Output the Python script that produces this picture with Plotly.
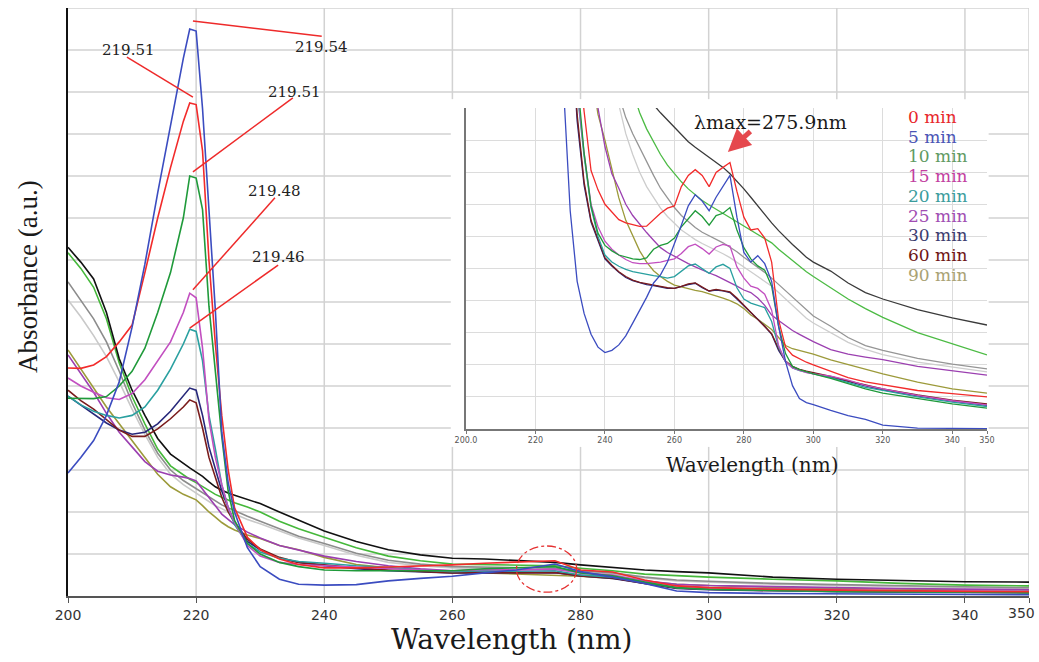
import plotly.graph_objects as go

# ---------------- data: main spectra ----------------
wl_main = [200, 202, 204, 206, 208, 210, 212, 214, 216, 218, 219, 220, 221, 222, 223, 224, 225, 226, 228, 230,
           233, 236, 240, 245, 250, 255, 260, 265, 270, 276, 280, 285, 290, 295, 300, 310, 320, 330, 340, 350]

main_0min = [5.43, 5.42, 5.5, 5.7, 6.05, 6.45, 7.7, 9.0, 10.2, 11.3, 11.74, 11.7, 10.6, 8.0, 6.0, 4.3, 3.0, 2.1, 1.4, 1.1,
             0.88, 0.75, 0.67, 0.67, 0.69, 0.71, 0.74, 0.78, 0.81, 0.84, 0.62, 0.57, 0.38, 0.24, 0.2, 0.16, 0.14, 0.12, 0.11, 0.1]
main_5min = [2.93, 3.3, 3.7, 4.3, 5.1, 6.4, 7.9, 9.6, 11.2, 12.8, 13.5, 13.45, 11.6, 9.2, 6.8, 3.9, 2.7, 2.0, 1.15, 0.7,
             0.4, 0.28, 0.26, 0.27, 0.36, 0.42, 0.47, 0.55, 0.62, 0.76, 0.58, 0.45, 0.3, 0.12, 0.08, 0.06, 0.05, 0.04, 0.04, 0.03]
main_10min = [4.71, 4.7, 4.7, 4.75, 5.0, 5.35, 5.9, 6.75, 7.7, 9.0, 10.0, 9.95, 9.2, 6.9, 5.4, 3.8, 2.5, 1.8, 1.25, 1.0,
              0.8, 0.7, 0.62, 0.6, 0.6, 0.6, 0.6, 0.65, 0.68, 0.7, 0.55, 0.48, 0.33, 0.2, 0.16, 0.13, 0.11, 0.1, 0.09, 0.08]
main_15min = [5.19, 5.0, 4.85, 4.72, 4.68, 4.82, 5.15, 5.6, 6.05, 6.75, 7.21, 7.1, 5.9, 4.2, 3.3, 2.65, 2.1, 1.75, 1.2, 0.95,
              0.8, 0.75, 0.72, 0.68, 0.64, 0.62, 0.6, 0.63, 0.62, 0.64, 0.55, 0.5, 0.36, 0.24, 0.2, 0.17, 0.15, 0.13, 0.12, 0.11]
main_20min = [4.76, 4.55, 4.4, 4.3, 4.24, 4.3, 4.5, 4.9, 5.4, 6.0, 6.35, 6.3, 5.6, 4.3, 3.5, 2.65, 2.1, 1.7, 1.25, 1.05,
              0.9, 0.82, 0.78, 0.72, 0.68, 0.62, 0.58, 0.6, 0.59, 0.6, 0.5, 0.45, 0.32, 0.2, 0.16, 0.13, 0.11, 0.1, 0.09, 0.08]
main_25min = [5.74, 5.3, 4.85, 4.35, 3.9, 3.55, 3.2, 2.97, 2.88, 2.83, 2.8, 2.74, 2.55, 2.35, 2.15, 1.95, 1.82, 1.7, 1.52, 1.38,
              1.2, 1.1, 0.95, 0.82, 0.72, 0.65, 0.6, 0.58, 0.56, 0.55, 0.5, 0.45, 0.36, 0.28, 0.25, 0.22, 0.2, 0.18, 0.16, 0.15]
main_30min = [4.76, 4.55, 4.35, 4.12, 3.95, 3.85, 3.9, 4.1, 4.4, 4.75, 4.95, 4.9, 4.3, 3.55, 3.0, 2.5, 2.1, 1.75, 1.3, 1.1,
              0.9, 0.8, 0.72, 0.65, 0.6, 0.57, 0.55, 0.55, 0.55, 0.56, 0.48, 0.42, 0.3, 0.18, 0.15, 0.12, 0.1, 0.09, 0.08, 0.08]
main_60min = [4.9, 4.65, 4.45, 4.2, 3.95, 3.8, 3.8, 3.98, 4.22, 4.5, 4.67, 4.6, 4.0, 3.3, 2.8, 2.35, 2.0, 1.75, 1.35, 1.12,
              0.92, 0.8, 0.74, 0.67, 0.62, 0.58, 0.55, 0.56, 0.55, 0.56, 0.48, 0.43, 0.3, 0.19, 0.16, 0.13, 0.11, 0.1, 0.09, 0.08]
main_90min = [5.86, 5.4, 4.95, 4.5, 4.1, 3.71, 3.3, 2.9, 2.6, 2.42, 2.35, 2.29, 2.15, 2.0, 1.88, 1.75, 1.65, 1.57, 1.45, 1.37,
              1.2, 1.1, 0.92, 0.75, 0.67, 0.62, 0.58, 0.55, 0.52, 0.5, 0.47, 0.42, 0.35, 0.28, 0.25, 0.2, 0.18, 0.16, 0.15, 0.14]
main_black = [8.3, 7.95, 7.55, 6.75, 5.65, 4.9, 4.3, 3.75, 3.38, 3.15, 3.05, 2.95, 2.85, 2.72, 2.6, 2.52, 2.45, 2.4, 2.3, 2.2,
              2.0, 1.8, 1.55, 1.3, 1.1, 0.98, 0.9, 0.88, 0.85, 0.8, 0.74, 0.68, 0.62, 0.58, 0.55, 0.45, 0.4, 0.37, 0.34, 0.33]
main_green = [8.17, 7.8, 7.35, 6.6, 5.55, 4.75, 4.1, 3.5, 3.1, 2.88, 2.78, 2.7, 2.6, 2.5, 2.42, 2.35, 2.28, 2.22, 2.12, 2.0,
              1.78, 1.6, 1.4, 1.15, 0.95, 0.84, 0.76, 0.75, 0.74, 0.72, 0.66, 0.6, 0.52, 0.48, 0.45, 0.4, 0.36, 0.3, 0.26, 0.24]
main_gray = [7.48, 7.05, 6.6, 6.05, 5.35, 4.6, 3.95, 3.4, 3.0, 2.75, 2.65, 2.57, 2.45, 2.35, 2.25, 2.17, 2.1, 2.03, 1.9, 1.78,
             1.6, 1.42, 1.25, 1.02, 0.85, 0.76, 0.7, 0.69, 0.68, 0.66, 0.6, 0.55, 0.45, 0.38, 0.35, 0.3, 0.27, 0.24, 0.22, 0.2]
main_lightgray = [7.05, 6.65, 6.2, 5.7, 5.1, 4.45, 3.85, 3.3, 2.9, 2.65, 2.55, 2.45, 2.35, 2.25, 2.15, 2.08, 2.0, 1.95, 1.82, 1.72,
                  1.55, 1.38, 1.2, 0.97, 0.8, 0.72, 0.67, 0.66, 0.65, 0.63, 0.58, 0.52, 0.43, 0.36, 0.33, 0.28, 0.25, 0.22, 0.2, 0.18]

# ---------------- data: inset (zoomed) spectra ----------------
wl_inset = [228, 230, 232, 234, 236, 238, 240, 242, 244, 246, 248, 250, 252, 254, 256, 258, 260, 262, 264, 266, 268,
            270, 272, 274, 276, 278, 280, 282, 284, 286, 288, 290, 292, 294, 296, 298, 300, 305, 310, 315, 320, 330, 340, 350]

ins_0min = [22, 16, 12, 9.9, 8.05, 7.45, 7.0, 6.75, 6.52, 6.42, 6.36, 6.31, 6.32, 6.52, 6.72, 6.88, 6.95, 7.55, 7.9, 8.08, 7.9,
            7.55, 7.99, 8.15, 8.3, 7.4, 6.6, 6.2, 6.24, 5.95, 5.2, 3.4, 2.55, 2.3, 2.18, 2.08, 2.0, 1.8, 1.6, 1.47, 1.38, 1.2, 1.1, 1.0]
ins_5min = [10.8, 6.8, 4.6, 3.6, 2.95, 2.55, 2.38, 2.45, 2.62, 2.9, 3.3, 3.7, 4.1, 4.55, 4.8, 5.2, 5.75, 6.35, 6.95, 7.3, 7.1,
            6.8, 7.22, 7.58, 7.9, 6.6, 5.5, 5.2, 5.4, 5.15, 4.6, 3.2, 2.1, 1.35, 0.95, 0.82, 0.76, 0.58, 0.42, 0.3, 0.12, 0.03, 0.02, 0.01]
ins_10min = [20, 14, 11, 8.6, 6.95, 6.1, 5.72, 5.55, 5.42, 5.35, 5.3, 5.28, 5.33, 5.6, 5.72, 5.78, 5.95, 6.3, 6.55, 6.8, 6.62,
             6.35, 6.65, 6.72, 6.9, 6.2, 5.65, 5.3, 5.08, 4.95, 4.45, 3.2, 2.35, 1.95, 1.85, 1.78, 1.72, 1.58, 1.42, 1.25, 1.12, 0.95, 0.78, 0.65]
ins_15min = [20, 14, 10.6, 8.6, 7.0, 6.3, 5.85, 5.6, 5.42, 5.28, 5.18, 5.15, 5.15, 5.17, 5.2, 5.25, 5.3, 5.47, 5.68, 5.76, 5.62,
             5.45, 5.67, 5.75, 5.7, 5.05, 4.7, 4.45, 4.38, 4.2, 3.7, 2.6, 2.1, 1.9, 1.82, 1.76, 1.72, 1.65, 1.52, 1.36, 1.25, 1.05, 0.88, 0.75]
ins_20min = [20, 14, 10.5, 8.5, 6.9, 6.0, 5.42, 5.2, 5.07, 4.97, 4.9, 4.86, 4.8, 4.78, 4.75, 4.7, 4.75, 4.92, 5.08, 5.14, 5.0,
             4.85, 5.05, 5.13, 5.0, 4.4, 4.05, 3.92, 3.85, 3.78, 3.35, 2.55, 2.1, 1.9, 1.82, 1.76, 1.72, 1.6, 1.45, 1.3, 1.2, 1.0, 0.84, 0.7]
ins_25min = [19, 16.8, 14.8, 13.0, 11.4, 10.0, 8.8, 7.95, 7.5, 7.0, 6.65, 6.38, 6.12, 5.88, 5.65, 5.5, 5.38, 5.28, 5.15, 5.05, 4.95,
             4.86, 4.78, 4.68, 4.56, 4.45, 4.33, 4.25, 4.08, 3.85, 3.55, 3.38, 3.22, 3.07, 2.95, 2.83, 2.72, 2.47, 2.33, 2.24, 2.16, 1.95, 1.82, 1.68]
ins_30min = [20, 13, 9.6, 7.6, 6.45, 5.85, 5.3, 5.08, 4.88, 4.72, 4.62, 4.56, 4.5, 4.47, 4.43, 4.38, 4.38, 4.45, 4.5, 4.54, 4.4,
             4.3, 4.33, 4.3, 4.25, 4.05, 3.85, 3.65, 3.42, 3.2, 2.95, 2.45, 2.1, 1.92, 1.84, 1.78, 1.74, 1.62, 1.48, 1.34, 1.22, 1.03, 0.87, 0.74]
ins_60min = [20, 13.2, 9.8, 7.7, 6.5, 5.9, 5.34, 5.1, 4.9, 4.75, 4.64, 4.57, 4.52, 4.48, 4.44, 4.4, 4.38, 4.44, 4.52, 4.55, 4.42,
             4.3, 4.35, 4.32, 4.27, 4.08, 3.86, 3.66, 3.44, 3.22, 2.97, 2.5, 2.12, 1.95, 1.86, 1.8, 1.76, 1.64, 1.5, 1.37, 1.25, 1.06, 0.9, 0.78]
ins_90min = [18.8, 16.6, 14.6, 12.8, 11.2, 9.8, 9.0, 8.1, 7.2, 6.5, 6.0, 5.55, 5.2, 4.93, 4.75, 4.6, 4.48, 4.42, 4.38, 4.32, 4.28,
             4.22, 4.16, 4.08, 4.0, 3.9, 3.75, 3.55, 3.42, 3.25, 3.1, 2.85, 2.6, 2.5, 2.44, 2.38, 2.33, 2.15, 2.0, 1.85, 1.72, 1.46, 1.25, 1.12]
ins_black = [24, 22, 20, 18, 16.5, 15.3, 14.3, 13.4, 12.6, 11.9, 11.3, 10.8, 10.4, 10.1, 9.85, 9.62, 9.4, 9.15, 8.95, 8.78, 8.62,
             8.48, 8.32, 8.15, 7.95, 7.72, 7.48, 7.22, 6.95, 6.68, 6.42, 6.18, 5.95, 5.75, 5.55, 5.35, 5.2, 4.92, 4.55, 4.25, 4.05, 3.72, 3.46, 3.24]
ins_green = [23.5, 21.4, 19.5, 17.8, 16.3, 15.0, 13.9, 12.9, 12.0, 11.2, 10.5, 9.85, 9.35, 8.95, 8.55, 8.22, 7.95, 7.7, 7.48, 7.3, 7.12,
             6.98, 6.85, 6.72, 6.6, 6.45, 6.33, 6.2, 6.08, 5.95, 5.8, 5.6, 5.42, 5.25, 5.05, 4.9, 4.75, 4.4, 4.05, 3.75, 3.48, 3.0, 2.65, 2.31]
ins_gray = [23, 21, 19, 17, 15.2, 13.7, 12.4, 11.3, 10.4, 9.7, 9.2, 8.75, 8.3, 7.9, 7.5, 7.2, 6.9, 6.65, 6.45, 6.28, 6.13,
            6.02, 5.92, 5.8, 5.66, 5.52, 5.35, 5.2, 5.05, 4.88, 4.7, 4.5, 4.3, 4.1, 3.9, 3.7, 3.52, 3.2, 2.85, 2.6, 2.45, 2.2, 2.02, 1.87]
ins_lightgray = [22.6, 20.3, 18.2, 16.3, 14.6, 13.2, 12.0, 11.0, 10.1, 9.2, 8.55, 8.0, 7.55, 7.2, 6.88, 6.62, 6.4, 6.2, 6.05, 5.9, 5.78,
                 5.68, 5.58, 5.46, 5.34, 5.2, 5.05, 4.9, 4.75, 4.6, 4.45, 4.25, 4.05, 3.85, 3.65, 3.45, 3.3, 3.0, 2.7, 2.48, 2.32, 2.08, 1.92, 1.78]

# ---------------- labels ----------------
legend_labels = ["0 min", "5 min", "10 min", "15 min", "20 min", "25 min", "30 min", "60 min", "90 min"]
legend_colors = ["#e8262a", "#4a55b5", "#5f9a62", "#c23e9f", "#3a9c9c", "#a04db2", "#3b3b6e", "#6e1414", "#a9a274"]
peak_labels = ["219.51", "219.54", "219.51", "219.48", "219.46"]
main_tick_vals = [200, 220, 240, 260, 280, 300, 320, 340, 350]
inset_tick_vals = [200, 220, 240, 260, 280, 300, 320, 340, 350]
inset_tick_text = ["200.0", "220", "240", "260", "280", "300", "320", "340", "350"]
lambda_max_label = "λmax=275.9nm"

# ---------------- styling ----------------
C = {
    "lightgray": "#c9c9c9", "gray": "#8c8c8c", "green": "#45b83a", "black": "#111111",
    "90": "#9c9a3a", "25": "#9b3fb0", "30": "#27287a", "60": "#7a1c1c", "20": "#2aa0a0",
    "15": "#c24fc0", "10": "#1f9a3a", "0": "#f22b2b", "5": "#3b4cc0",
}

main_traces = [
    (main_lightgray, C["lightgray"]), (main_gray, C["gray"]), (main_green, C["green"]), (main_black, C["black"]),
    (main_90min, C["90"]), (main_25min, C["25"]), (main_30min, C["30"]), (main_60min, C["60"]),
    (main_20min, C["20"]), (main_15min, C["15"]), (main_10min, C["10"]), (main_0min, C["0"]), (main_5min, C["5"]),
]
inset_traces = [
    (ins_lightgray, "#cdcdcd"), (ins_gray, "#959595"), (ins_green, "#4cbb44"), (ins_black, "#3a3a3a"),
    (ins_90min, C["90"]), (ins_25min, C["25"]), (ins_30min, C["30"]), (ins_60min, C["60"]),
    (ins_20min, C["20"]), (ins_15min, C["15"]), (ins_10min, C["10"]), (ins_0min, C["0"]), (ins_5min, C["5"]),
]

fig = go.Figure()
for ys, col in main_traces:
    fig.add_trace(go.Scatter(x=wl_main, y=ys, mode="lines", line=dict(color=col, width=1.6),
                             xaxis="x", yaxis="y", hoverinfo="skip"))
for ys, col in inset_traces:
    fig.add_trace(go.Scatter(x=wl_inset, y=ys, mode="lines", line=dict(color=col, width=1.3),
                             xaxis="x2", yaxis="y2", hoverinfo="skip"))

# geometry (pixels) -> paper helpers
W, H = 1039, 662
L, R, T, B = 68, 10, 8, 66
PW, PH = W - L - R, H - T - B


def px(x):
    return (x - L) / PW


def py(y):
    return (H - B - y) / PH


# main gridlines as shapes, interrupted by the white inset box
box_x = (259.75, 343.7)
box_y = (3.55, 11.83)
shapes = []
grid_style = dict(color="#d2d2d2", width=1.5)
for v in range(1, 15):
    segs = [(200, box_x[0]), (box_x[1], 350)] if box_y[0] < v < box_y[1] else [(200, 350)]
    for a, b in segs:
        shapes.append(dict(type="line", xref="x", yref="y", x0=a, x1=b, y0=v, y1=v, line=grid_style, layer="below"))
for lam in main_tick_vals[1:]:
    segs = [(0, box_y[0]), (box_y[1], 14)] if box_x[0] < lam < box_x[1] else [(0, 14)]
    for a, b in segs:
        shapes.append(dict(type="line", xref="x", yref="y", x0=lam, x1=lam, y0=a, y1=b, line=grid_style, layer="below"))

# red leader lines for peak labels
leaders = [((209.2, 12.83), (219.5, 11.88)), ((219.5, 13.69), (239.6, 13.33)), ((235.1, 11.86), (219.5, 10.1)),
           ((232.3, 9.48), (219.5, 7.29)), ((232.8, 7.88), (219.0, 6.38))]
for (x0, y0), (x1, y1) in leaders:
    shapes.append(dict(type="line", xref="x", yref="y", x0=x0, y0=y0, x1=x1, y1=y1,
                       line=dict(color="#ee2a2a", width=1.5)))
# dashed circle around the 275 nm band
shapes.append(dict(type="circle", xref="x", yref="y", x0=270.0, x1=279.4, y0=0.09, y1=1.19,
                   line=dict(color="#e53030", width=1.3, dash="dashdot")))

annotations = []
label_pos = [(209.4, 13.0), (239.6, 13.07), (235.4, 12.0), (232.3, 9.64), (232.9, 8.07)]
for txt, (x, y) in zip(peak_labels, label_pos):
    annotations.append(dict(x=x, y=y, xref="x", yref="y", text=txt, showarrow=False,
                            xanchor="center", yanchor="middle",
                            font=dict(family="DejaVu Serif", size=15, color="#222")))


def paper_text(x, y, text, **kw):
    d = dict(x=px(x), y=py(y), xref="paper", yref="paper", text=text, showarrow=False,
             xanchor="center", yanchor="middle")
    d.update(kw)
    return d


annotations.append(paper_text(512, 639, "Wavelength (nm)",
                              font=dict(family="DejaVu Serif", size=28, color="#1a1a1a")))
annotations.append(paper_text(28, 277, "Absorbance (a.u.)", textangle=-90,
                              font=dict(family="Liberation Serif", size=27, color="#1a1a1a")))
annotations.append(paper_text(1021, 613, "350", font=dict(family="DejaVu Sans", size=14, color="#333")))
# inset texts
annotations.append(paper_text(752, 465, "Wavelength (nm)",
                              font=dict(family="DejaVu Serif", size=20, color="#1a1a1a")))
annotations.append(dict(x=287.8, y=9.56, xref="x2", yref="y2", text=lambda_max_label, showarrow=False,
                        xanchor="center", yanchor="middle",
                        font=dict(family="DejaVu Serif", size=19, color="#1a1a1a")))
annotations.append(dict(x=275.4, y=8.63, xref="x2", yref="y2", text="", showarrow=True, ax=24, ay=-22,
                        arrowhead=2, arrowsize=0.9, arrowwidth=5, arrowcolor="#e5484d", standoff=0))
for i, (txt, col) in enumerate(zip(legend_labels, legend_colors)):
    annotations.append(paper_text(906, 117 + 19.75 * i, txt, xanchor="left",
                                  font=dict(family="DejaVu Serif", size=17, color=col)))

fig.update_layout(
    template="none",
    width=W, height=H, margin=dict(l=L, r=R, t=T, b=B, pad=0, autoexpand=False),
    paper_bgcolor="white", plot_bgcolor="white", showlegend=False,
    xaxis=dict(range=[200, 350], domain=[0, 1], anchor="y", tickvals=main_tick_vals,
               ticktext=[str(v) for v in main_tick_vals[:-1]] + [""], automargin=False,
               showgrid=False, zeroline=False, showline=True, linecolor="#555", linewidth=2,
               ticks="outside", ticklen=5, tickcolor="#555",
               tickfont=dict(family="DejaVu Sans", size=14, color="#333")),
    yaxis=dict(range=[0, 14], domain=[0, 1], anchor="x", showgrid=False, zeroline=False, showline=True,
               linecolor="#111", linewidth=2, showticklabels=False, ticks="", automargin=False),
    xaxis2=dict(range=[200, 350], domain=[px(466), px(987)], anchor="y2", tickvals=inset_tick_vals,
                ticktext=inset_tick_text, showgrid=True, gridcolor="#dcdcdc", gridwidth=1, zeroline=False,
                showline=True, linecolor="#777", linewidth=1.5, ticks="outside", ticklen=3, tickcolor="#777",
                tickfont=dict(family="DejaVu Sans", size=8, color="#555"), automargin=False),
    yaxis2=dict(range=[0, 10], domain=[py(429), py(108)], anchor="x2", dtick=1, showgrid=True,
                gridcolor="#dcdcdc", gridwidth=1, zeroline=False, showline=True, linecolor="#777",
                linewidth=1.5, showticklabels=False, ticks="", automargin=False),
    shapes=shapes, annotations=annotations,
)

fig.write_html("out.html")
